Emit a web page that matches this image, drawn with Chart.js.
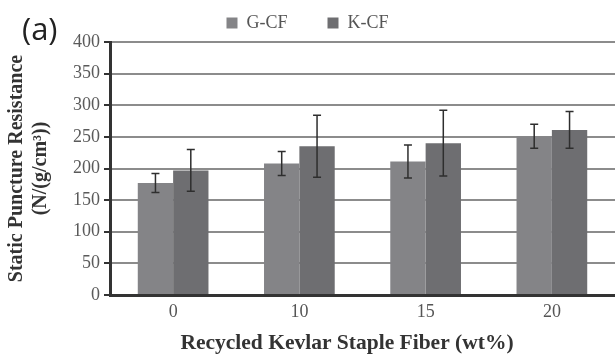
<!DOCTYPE html>
<html>
<head>
<meta charset="utf-8">
<script src="https://cdn.jsdelivr.net/npm/chart.js@4.4.1/dist/chart.umd.min.js"></script>
<style>
    html, body { margin: 0; padding: 0; background: #fff; }
    #wrap { width: 615px; height: 354px; }
</style>
</head>
<body>
<div id="wrap"><canvas id="chart"></canvas></div>
<script>
const CATEGORIES = ['0', '10', '15', '20'];
const GCF = [177, 208, 211, 251];
const GCF_ERR = [15, 19, 26, 19];
const KCF = [197, 235, 240, 261];
const KCF_ERR = [33, 49, 52, 29];
const Y_TICKS = [0, 50, 100, 150, 200, 250, 300, 350, 400];

const SERIF = '"Liberation Serif", "DejaVu Serif", serif';
const X_TITLE = 'Recycled Kevlar Staple Fiber (wt%)';

const errorBars = {
    id: 'errorBars',
    afterDatasetsDraw(chart) {
        let ctx = chart.ctx;
        let y = chart.scales.y;

        ctx.save();
        ctx.strokeStyle = '#2e2e2e';
        ctx.lineWidth = 1.5;

        chart.data.datasets.forEach((ds, idx) => {
            let meta = chart.getDatasetMeta(idx);
            meta.data.forEach((bar, i) => {
                let v = ds.data[i];
                let e = ds.errors[i];
                let top = y.getPixelForValue(v + e);
                let bot = y.getPixelForValue(v - e);
                let x = bar.x;

                ctx.beginPath();
                ctx.moveTo(x, top);
                ctx.lineTo(x, bot);
                ctx.moveTo(x - 4, top);
                ctx.lineTo(x + 4, top);
                ctx.moveTo(x - 4, bot);
                ctx.lineTo(x + 4, bot);
                ctx.stroke();
            });
        });

        ctx.restore();
    }
};

// panel letter and x axis title (the title sits a bit left of the plot centre)
const extraText = {
    id: 'extraText',
    afterDraw(chart) {
        let ctx = chart.ctx;
        ctx.save();
        ctx.fillStyle = '#222';
        ctx.font = '31px "Open Sans", "Noto Sans", sans-serif';
        ctx.textBaseline = 'alphabetic';
        ctx.textAlign = 'left';
        ctx.fillText('(a)', 22, 40);

        ctx.fillStyle = '#333';
        ctx.font = 'bold 21.5px ' + SERIF;
        ctx.textAlign = 'center';
        ctx.textBaseline = 'middle';
        ctx.fillText(X_TITLE, 347, 343);
        ctx.restore();
    }
};

new Chart(document.getElementById('chart'), {
    type: 'bar',
    plugins: [errorBars, extraText],
    data: {
        labels: CATEGORIES,
        datasets: [
            { label: 'G-CF', data: GCF, errors: GCF_ERR, backgroundColor: '#848487' },
            { label: 'K-CF', data: KCF, errors: KCF_ERR, backgroundColor: '#6e6e71' }
        ]
    },
    options: {
        responsive: true,
        maintainAspectRatio: false,
        animation: false,
        // legend padding is wide for the item gap, pull it back up
        layout: { padding: { top: -26, right: 0, bottom: 0, left: 0 } },
        datasets: {
            bar: { barPercentage: 1, categoryPercentage: 0.56 }
        },
        scales: {
            x: {
                afterFit: scale => { scale.height = 59; },
                grid: { display: false, drawTicks: false },
                border: { color: '#333', width: 3 },
                ticks: { color: '#555', padding: 6, font: { family: SERIF, size: 18 } }
            },
            y: {
                min: 0,
                max: 400,
                afterFit: scale => { scale.width = 110; },
                afterBuildTicks: scale => { scale.ticks = Y_TICKS.map(v => ({ value: v })); },
                grid: { color: '#8c8c8c', lineWidth: 2, tickColor: '#333', tickLength: 6 },
                border: { color: '#333', width: 3 },
                ticks: { color: '#5a5a5a', padding: 4, font: { family: SERIF, size: 18 } },
                title: {
                    display: true,
                    text: ['Static Puncture Resistance', '(N/(g/cm³))'],
                    color: '#333',
                    padding: { top: 5, bottom: 0 },
                    font: { family: SERIF, size: 20, weight: 'bold' }
                }
            }
        },
        plugins: {
            legend: {
                position: 'top',
                labels: {
                    boxWidth: 11,
                    boxHeight: 11,
                    padding: 40,
                    color: '#555',
                    font: { family: SERIF, size: 18 }
                }
            },
            tooltip: { enabled: false }
        }
    }
});
</script>
</body>
</html>
